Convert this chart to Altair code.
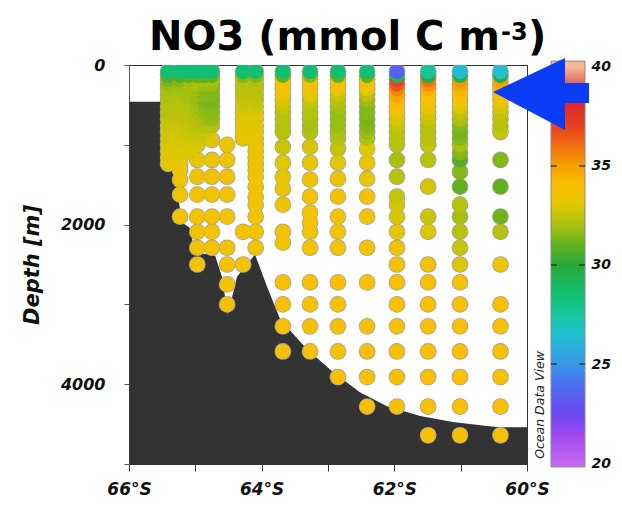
import altair as alt
import pandas as pd

# ---- colour palette (ODV style) ----
pal_vals = [20, 21.5, 22.5, 24, 25, 26.5, 27.5, 28.5, 30, 31, 32, 33, 34, 35, 36, 37, 38.5, 40]
pal_cols = ['#c468f4', '#9a48f0', '#6a48f0', '#4a70f0', '#3898e8', '#20c0d0', '#18c8a0',
            '#10c070', '#28a838', '#60b020', '#a8c010', '#e0c800', '#f8c000', '#f8a000',
            '#f07010', '#e84020', '#d82030', '#f8b898']
cbar_ticks = [20, 25, 30, 35, 40]
cbar_inner_ticks = [25, 30, 35]

# ---- stations (degrees South) ----
lat_st = [65.41, 65.23, 65.10, 64.97, 64.86, 64.75, 64.52, 64.28, 64.09, 63.68, 63.27,
          62.85, 62.41, 61.96, 61.49, 61.01, 60.40]

UP = [80, 130, 180, 240, 300, 370, 440, 520, 600, 680, 760, 840, 920, 1000]

d01 = UP + [1080, 1160, 1240]
v01 = [28.5, 30.8, 31.3, 31.8, 32.0, 32.1, 32.2, 32.3, 32.3, 32.5, 32.6, 32.7, 32.8, 32.9, 33.0, 33.1, 33.2]
d02 = UP + [1080, 1160, 1240, 1320, 1440, 1625, 1900]
v02 = [28.5, 30.8, 31.5, 31.8, 32.0, 32.1, 32.2, 32.3, 32.3, 32.5, 32.6, 32.7, 32.8, 32.9,
       33.0, 33.1, 33.3, 33.4, 33.6, 33.7, 33.8]
d02b = UP + [1080]
v02b = [28.5, 31.0, 31.8, 32.0, 32.0, 32.0, 32.1, 32.2, 32.3, 32.4, 32.5, 32.6, 32.8, 32.9, 33.0]
d03 = UP + [1190, 1400, 1625, 1900, 2090, 2290, 2500]
v03 = [28.5, 31.0, 32.0, 32.0, 31.8, 31.8, 31.8, 31.9, 32.0, 32.2, 32.3, 32.5, 32.7, 32.9,
       33.3, 33.6, 33.8, 33.8, 33.8, 33.8, 33.8]
d03b = UP[:12]
v03b = [28.5, 31.0, 32.0, 31.8, 31.6, 31.5, 31.4, 31.6, 31.8, 32.0, 32.3, 32.6]
d04 = [80, 130, 180, 240, 300, 370, 440, 520, 600, 680, 760, 940, 1190, 1400, 1625, 1900, 2090, 2290]
v04 = [28.5, 31.0, 32.0, 31.8, 31.5, 31.5, 31.3, 31.5, 31.6, 31.8, 32.2, 32.9, 33.5, 33.7, 33.8, 33.8, 33.8, 33.8]
d05 = [1000, 1190, 1400, 1625, 1900, 2290, 2500, 2750, 3000]
v05 = [33.4, 33.6, 33.8, 33.8, 33.8, 33.8, 33.8, 33.9, 33.9]
d06 = [80, 130, 180, 240, 300, 370, 440, 520, 600, 680, 760, 840, 920, 2090, 2500]
v06 = [28.5, 31.5, 32.2, 32.3, 32.3, 32.4, 32.5, 32.7, 32.9, 33.0, 33.1, 33.2, 33.3, 33.8, 33.8]
d07 = UP + [1080, 1160, 1240, 1320, 1400, 1525, 1650, 1750, 1900, 2090, 2290]
v07 = [28.5, 31.5, 32.2, 32.3, 32.3, 32.4, 32.5, 32.7, 32.9, 33.0, 33.1, 33.2, 33.3, 33.4,
       33.5, 33.6, 33.7, 33.7, 33.8, 33.8, 33.8, 33.8, 33.8, 33.8, 33.8]
d08 = UP[:12] + [1025, 1225, 1400, 1550, 1750, 2090, 2225, 2725, 3000, 3275, 3590]
v08 = [28.5, 31.0, 34.0, 34.0, 33.8, 33.2, 32.8, 32.5, 32.3, 32.2, 32.2, 32.3,
       32.6, 33.0, 33.2, 33.4, 33.6, 33.8, 33.8, 34.0, 34.0, 34.0, 34.0]
d09 = UP[:12] + [1025, 1225, 1437, 1650, 1850, 1975, 2090, 2290, 2725, 3000, 3275, 3590]
v09 = [28.5, 31.5, 34.0, 34.0, 33.5, 33.0, 32.5, 32.3, 32.2, 32.0, 32.0, 32.2,
       32.8, 33.3, 33.7, 33.8, 33.8, 33.8, 33.8, 33.9, 34.0, 34.0, 34.0, 34.0]
d10 = UP[:13] + [1050, 1225, 1425, 1650, 1900, 2090, 2290, 2725, 3000, 3275, 3590, 3910]
v10 = [28.5, 31.0, 34.0, 33.8, 33.2, 32.6, 32.2, 32.0, 31.8, 31.8, 31.8, 32.0, 32.2,
       32.5, 33.0, 33.5, 33.7, 33.8, 33.8, 33.9, 34.0, 34.0, 34.0, 34.0, 34.0]
d11 = UP[:13] + [1050, 1225, 1425, 1650, 1900, 2290, 2725, 3275, 3590, 3910, 4280]
v11 = [28.5, 31.0, 34.0, 33.5, 33.0, 32.3, 31.8, 31.5, 31.5, 31.3, 31.5, 31.8, 32.2,
       33.0, 33.3, 33.5, 33.8, 33.8, 33.9, 34.0, 34.0, 34.0, 34.0, 34.0]
d12 = UP + [1190, 1400, 1650, 1750, 1900, 2090, 2290, 2500, 2725, 3000, 3275, 3590, 3910, 4280]
v12 = [23.5, 29.0, 37.0, 36.5, 35.5, 34.8, 34.2, 34.0, 33.3, 32.8, 32.5, 32.3, 32.2, 32.2,
       32.0, 32.3, 32.5, 32.8, 32.8, 33.2, 33.6, 33.8, 33.9, 34.0, 34.0, 34.0, 34.0, 34.0]
d13 = UP + [1190, 1525, 1900, 2090, 2500, 2725, 3000, 3275, 3590, 3910, 4280, 4640]
v13 = [27.8, 29.5, 36.0, 35.3, 34.5, 34.0, 33.8, 33.3, 32.8, 32.5, 32.3, 32.3, 32.3, 32.5,
       32.3, 32.8, 32.6, 32.9, 33.8, 34.0, 34.0, 34.0, 34.0, 34.0, 34.0, 34.0]
d14 = UP + [1100, 1190, 1340, 1525, 1750, 1900, 2090, 2290, 2500, 2725, 3000, 3275, 3590, 3910, 4280, 4640]
v14 = [26.3, 29.5, 35.3, 34.8, 34.3, 34.0, 33.5, 33.0, 32.5, 32.0, 31.5, 31.3, 31.5, 32.0,
       31.5, 30.8, 31.5, 31.0, 32.3, 32.0, 32.3, 32.5, 32.9, 33.8, 34.0, 34.0, 34.0, 34.0, 34.0, 34.0]
d15 = UP[:12] + [1190, 1525, 1900, 2090, 2500, 3000, 3275, 3590, 3910, 4280, 4640]
v15 = [26.5, 29.5, 35.0, 34.5, 34.0, 33.8, 33.3, 32.8, 32.5, 32.3, 32.3, 32.5,
       31.5, 31.0, 31.2, 32.2, 33.4, 34.0, 34.0, 34.0, 34.0, 34.0, 34.0]

depth_lists = [d01, d02, d02b, d03, d03b, d04, d05, d06, d07, d08, d09, d10, d11, d12, d13, d14, d15]
value_lists = [v01, v02, v02b, v03, v03b, v04, v05, v06, v07, v08, v09, v10, v11, v12, v13, v14, v15]

# ---- bathymetry outline ----
bathy_lat = [66.0, 65.49, 65.47, 65.38, 65.34, 65.26, 65.20, 65.05, 65.04, 64.70, 64.60, 64.51,
             64.37, 64.10, 63.92, 63.72, 63.32, 62.92, 62.52, 62.11, 61.61, 61.12, 60.60, 60.41, 60.0]
bathy_depth = [460, 460, 900, 1190, 1350, 1650, 1975, 2060, 2340, 2390, 2650, 3125,
               2650, 2375, 2775, 3190, 3560, 3850, 4100, 4275, 4400, 4475, 4525, 4540, 4540]

title_main = "NO3 (mmol C m"
title_sup = "-3"
title_end = ")"
odv_label = "Ocean Data View"

# ---- build tables ----
rows = []
for lat, ds, vs in zip(lat_st, depth_lists, value_lists):
    for d, v in zip(ds, vs):
        rows.append({"lat": lat, "depth": d, "no3": v})
df = pd.DataFrame(rows).sort_values("depth", ascending=False, kind="stable")

bathy = pd.DataFrame({"lat": bathy_lat, "depth": bathy_depth})
bathy["floor"] = 5000

FONT = "DejaVu Sans"
xscale = alt.Scale(domain=[60, 66], reverse=True, nice=False, zero=False)
yscale = alt.Scale(domain=[0, 5000], reverse=True, nice=False, zero=False)

x_axis = alt.Axis(values=[60, 61, 62, 63, 64, 65, 66],
                  labelExpr="datum.value % 2 == 0 ? datum.value + '°S' : ''",
                  title=None, tickSize=7, labelPadding=10, labelFont=FONT, labelFontSize=17,
                  labelFontWeight="bold", labelFontStyle="italic", labelColor="#111",
                  domainColor="#333", tickColor="#333", grid=False, labelOverlap=False,
                  labelFlush=False)
y_axis = alt.Axis(values=[0, 1000, 2000, 3000, 4000, 5000],
                  labelExpr="datum.value % 2000 == 0 ? '' + datum.value : ''",
                  title="Depth [m]", titleFont=FONT, titleFontSize=21, titleFontWeight="bold",
                  titleFontStyle="italic", titleColor="#111", titleX=-97, titleY=199.5,
                  titleAngle=270, titleAlign="center", titleBaseline="middle",
                  tickSize=5, labelPadding=19, labelFont=FONT, labelFontSize=16,
                  labelFontWeight="bold", labelFontStyle="italic", labelColor="#111",
                  domainColor="#555", tickColor="#555", grid=False, labelOverlap=False,
                  labelFlush=False)

area = alt.Chart(bathy).mark_area(color="#333333", opacity=1).encode(
    x=alt.X("lat:Q", scale=xscale, axis=x_axis),
    y=alt.Y("depth:Q", scale=yscale, axis=y_axis),
    y2="floor:Q",
)

color_scale = alt.Scale(domain=pal_vals, range=pal_cols, interpolate="rgb")
rims = alt.Chart(df).mark_circle(size=280, opacity=1, color="#a2a2a2", clip=True).encode(
    x=alt.X("lat:Q", scale=xscale, axis=x_axis),
    y=alt.Y("depth:Q", scale=yscale, axis=y_axis),
)
dots = alt.Chart(df).mark_circle(size=230, opacity=1, strokeWidth=0, clip=True).encode(
    x=alt.X("lat:Q", scale=xscale, axis=x_axis),
    y=alt.Y("depth:Q", scale=yscale, axis=y_axis),
    color=alt.Color("no3:Q", scale=color_scale, legend=None),
)

section = alt.layer(area, rims, dots)

# ---- colour bar ----
lo, hi = 19.8, 40.3
grad = alt.LinearGradient(
    gradient="linear",
    stops=[alt.GradientStop(color=c, offset=(v - lo) / (hi - lo)) for v, c in zip(pal_vals, pal_cols)],
    x1=0, x2=0, y1=1, y2=0,
)
cbar_scale = alt.Scale(domain=[19.95, 40.1], nice=False, zero=False)
cbar_df = pd.DataFrame({"lo": [lo], "hi": [hi]})
cbar_axis = alt.Axis(orient="right", offset=58, values=cbar_ticks, title=None, ticks=False,
                     tickSize=0, domain=False, labelPadding=6, labelFont=FONT, labelFontSize=14,
                     labelFontWeight="bold", labelFontStyle="italic", labelColor="#111",
                     grid=False, labelFlush=False, labelOverlap=False)
cbar_rect = alt.Chart(cbar_df).mark_rect(fill=grad, stroke="#8a8a8a", strokeWidth=1).encode(
    x=alt.value(422), x2=alt.value(456),
    y=alt.Y("hi:Q", scale=cbar_scale, axis=cbar_axis, title=None),
    y2="lo:Q",
)
tick_df = pd.DataFrame({"v": cbar_inner_ticks})
tick_left = alt.Chart(tick_df).mark_rule(color="#333", strokeWidth=1.5).encode(
    x=alt.value(422), x2=alt.value(428),
    y=alt.Y("v:Q", scale=cbar_scale, axis=cbar_axis, title=None),
)
tick_right = alt.Chart(tick_df).mark_rule(color="#333", strokeWidth=1.5).encode(
    x=alt.value(450), x2=alt.value(456),
    y=alt.Y("v:Q", scale=cbar_scale, axis=cbar_axis, title=None),
)
cbar = alt.layer(cbar_rect, tick_left, tick_right)

odv = alt.Chart(pd.DataFrame({"t": [odv_label]})).mark_text(
    angle=270, font=FONT, fontSize=12.5, fontStyle="italic", color="#222"
).encode(text="t:N", x=alt.value(411), y=alt.value(340))

TFONT = "DejaVu Sans"
t1 = alt.Chart(pd.DataFrame({"t": [title_main]})).mark_text(
    font=TFONT, fontSize=40, fontWeight="bold", align="right",
    baseline="alphabetic", color="black"
).encode(text="t:N", x=alt.value(371), y=alt.value(-15))
t2 = alt.Chart(pd.DataFrame({"t": [title_sup]})).mark_text(
    font=TFONT, fontSize=24, fontWeight="bold", align="left",
    baseline="alphabetic", color="black"
).encode(text="t:N", x=alt.value(372), y=alt.value(-25))
t3 = alt.Chart(pd.DataFrame({"t": [title_end]})).mark_text(
    font=TFONT, fontSize=40, fontWeight="bold", align="left",
    baseline="alphabetic", color="black"
).encode(text="t:N", x=alt.value(399), y=alt.value(-15))

arrow_path = "M -0.96 -0.04 L 0.48 -0.72 L 0.48 -0.22 L 0.96 -0.22 L 0.96 0.18 L 0.48 0.18 L 0.48 0.72 Z"
arrow = alt.Chart(pd.DataFrame({"a": [1]})).mark_point(
    shape=arrow_path, size=10000, filled=True, fill="#0a3cf5", color="#0a3cf5",
    opacity=1, strokeWidth=0
).encode(x=alt.value(412), y=alt.value(29))

chart = alt.layer(section, cbar, odv, t1, t2, t3, arrow).resolve_scale(
    y="independent"
).properties(
    width=398, height=399,
    padding={"left": 121, "top": 57, "right": 85, "bottom": 34},
    autosize=alt.AutoSizeParams(type="none"),
).configure_view(stroke="#333", strokeWidth=1)

chart.save("out.html", embed_options={"renderer": "svg", "actions": False})
